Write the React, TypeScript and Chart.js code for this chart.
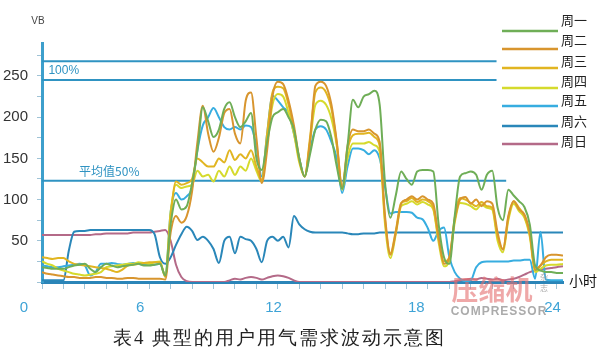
import React, { useEffect, useRef } from 'react';
import { Chart, registerables } from 'chart.js';

Chart.register(...registerables);

// ---------- DATA ----------
const hours = [
  0, 0.25, 0.5, 0.75, 1, 1.25, 1.5, 1.75, 2, 2.25, 2.5, 2.75, 3, 3.25, 3.5, 3.75,
  4, 4.25, 4.5, 4.75, 5, 5.25, 5.5, 5.75, 6, 6.25, 6.5, 6.75, 7, 7.25, 7.5, 7.75,
  8, 8.25, 8.5, 8.75, 9, 9.25, 9.5, 9.75, 10, 10.25, 10.5, 10.75, 11, 11.25, 11.5, 11.75,
  12, 12.25, 12.5, 12.75, 13, 13.25, 13.5, 13.75, 14, 14.25, 14.5, 14.75, 15, 15.25, 15.5, 15.75,
  16, 16.25, 16.5, 16.75, 17, 17.25, 17.5, 17.75, 18, 18.25, 18.5, 18.75, 19, 19.25, 19.5, 19.75,
  20, 20.25, 20.5, 20.75, 21, 21.25, 21.5, 21.75, 22, 22.25, 22.5, 22.75, 23, 23.25, 23.5, 23.75,
  24, 24.3,
];

const mon = [
  18, 17, 16, 16, 16, 18, 20, 21, 22, 16, 12, 18, 22, 20, 18, 19,
  20, 21, 22, 20, 20, 21, 22, 8, 70, 100, 88, 92, 120, 160, 212, 195,
  176, 185, 210, 218, 200, 188, 195, 205, 150, 136, 170, 200, 206, 210, 200, 185,
  150, 128, 155, 185, 197, 195, 175, 140, 113, 165, 221, 212, 225, 228, 232, 215,
  120, 78, 105, 134, 125, 118, 134, 136, 136, 134, 70, 30, 22, 80, 128, 132,
  134, 130, 112, 130, 135, 90, 75, 112, 105, 98, 91, 70, 20, 14, 12, 12,
  11, 11,
];
const tue = [
  12, 10, 9, 8, 7, 6, 6, 5, 5, 5, 6, 6, 5, 5, 4, 4,
  5, 5, 4, 4, 4, 4, 4, 3, 60, 80, 72, 80, 110, 170, 214, 180,
  158, 175, 205, 210, 180, 168, 220, 230, 175, 120, 160, 225, 243, 240, 220, 190,
  150, 128, 170, 238, 243, 238, 215, 170, 115, 165, 185, 183, 183, 185, 180, 170,
  80, 33, 60, 95, 100, 104, 100, 104, 100, 95, 55, 22, 30, 75, 100, 103,
  95, 100, 92, 98, 95, 60, 39, 80, 98, 88, 82, 60, 15, 20, 30, 33,
  33, 32,
];
const wed = [
  30, 29, 28, 29, 29, 25, 22, 21, 20, 19, 18, 17, 16, 14, 12, 15,
  20, 21, 22, 23, 24, 24, 24, 6, 80, 122, 118, 120, 125, 150, 145, 140,
  140, 150, 145, 160, 148, 155, 150, 160, 140, 124, 180, 230, 237, 235, 215, 185,
  148, 128, 175, 230, 236, 230, 210, 168, 114, 160, 178, 180, 180, 181, 176, 165,
  75, 35, 62, 96, 98, 102, 97, 100, 98, 90, 52, 25, 30, 78, 102, 100,
  96, 92, 97, 92, 90, 55, 40, 78, 98, 90, 80, 58, 15, 20, 25, 27,
  27, 27,
];
const thu = [
  25, 22, 20, 16, 14, 12, 10, 9, 8, 9, 10, 12, 18, 19, 20, 21,
  22, 22, 24, 23, 22, 24, 25, 7, 85, 118, 114, 116, 118, 135, 128, 130,
  122, 135, 128, 140, 130, 140, 135, 150, 135, 122, 170, 215, 228, 225, 205, 180,
  145, 128, 170, 215, 220, 215, 198, 165, 112, 150, 168, 168, 168, 170, 166, 158,
  70, 29, 58, 92, 95, 98, 94, 97, 94, 88, 48, 19, 26, 72, 96, 95,
  92, 88, 94, 90, 88, 50, 36, 75, 95, 86, 78, 55, 12, 16, 20, 21,
  21, 22,
];
const fri = [
  20, 19, 18, 18, 19, 20, 21, 22, 20, 8, 12, 22, 22, 23, 22, 21,
  22, 23, 22, 21, 22, 21, 22, 8, 85, 108, 100, 104, 115, 160, 190, 200,
  211, 200, 188, 185, 188, 185, 190, 188, 165, 128, 180, 226, 220, 212, 205, 180,
  150, 128, 160, 185, 189, 185, 170, 150, 108, 140, 162, 162, 160, 155, 160, 150,
  115, 83, 85, 85, 85, 84, 78, 76, 65, 50, 62, 66, 30, 12, 4, 1,
  2, 18, 24, 25, 25, 25, 25, 25, 26, 26, 27, 27, 4, 61, 3, 2,
  2, 2,
];
const sat = [
  2, 2, 2, 2, 2, 38, 61, 62, 62, 63, 63, 63, 63, 63, 63, 63,
  63, 63, 63, 63, 63, 58, 30, 22, 30, 45, 58, 67, 62, 51, 55, 50,
  40, 23, 50, 55, 35, 55, 52, 50, 40, 24, 50, 55, 50, 55, 42, 80,
  70, 64, 61, 60, 60, 60, 60, 60, 60, 59, 58, 58, 59, 59, 59, 60,
  60, 60, 60, 60, 60, 60, 60, 60, 60, 60, 60, 60, 60, 60, 60, 60,
  60, 60, 60, 60, 60, 60, 60, 60, 60, 60, 60, 60, 60, 60, 60, 60,
  60, 60,
];
const sun = [
  57, 57, 57, 57, 57, 57, 57, 57, 57, 57, 58, 58, 59, 59, 59, 59,
  59, 60, 60, 60, 60, 61, 62, 63, 50, 21, 6, 1, 0, 0, 0, 0,
  0, 0, 0, 2, 4, 3, 5, 6, 5, 3, 5, 7, 8, 7, 5, 2,
  0, 0, 0, 0, 0, 0, 0, 0, 0, 0, 0, 0, 0, 0, 0, 0,
  0, 0, 0, 0, 0, 0, 0, 0, 0, 0, 0, 0, 0, 1, 2, 3,
  4, 3, 5, 4, 3, 4, 2, 3, 4, 6, 9, 12, 14, 15, 16, 17,
  18, 19,
];

const seriesNames = ['周一', '周二', '周三', '周四', '周五', '周六', '周日'];
const seriesValues = [mon, tue, wed, thu, fri, sat, sun];
const seriesColors = ['#6fae57', '#d8952e', '#e1b521', '#d5da2d', '#37ade0', '#2a87b9', '#b46a88'];

// reference lines (value, end hour)
const refFullTop = 268;
const refFullBottom = 245;
const refAvg = 123;
const refFullEnd = 21.2;
const refAvgEnd = 21.65;

const yTickLabels = [50, 100, 150, 200, 250];
const xLabelText = ['0', '6', '12', '18', '24'];
const xLabelHours = [-0.84, 4.58, 10.8, 17.46, 23.81];

// ---------- STYLE / LAYOUT ----------
const legendLineY = [31, 49, 68, 88, 106, 126, 144];
const legendTextY = [20, 40, 61, 81, 100, 121, 141];
const refColor = '#2f93c2';

const extrasPlugin = {
  id: 'extras',
  afterDraw(chart: any) {
    const { ctx } = chart;
    const xs = chart.scales.x;
    const ys = chart.scales.y;
    ctx.save();

    // unit label
    ctx.fillStyle = '#444';
    ctx.font = '10px "Liberation Sans"';
    ctx.textAlign = 'center';
    ctx.textBaseline = 'middle';
    ctx.fillText('VB', 38, 21);

    // reference labels
    ctx.fillStyle = refColor;
    ctx.font = '12px "Liberation Sans"';
    ctx.textAlign = 'left';
    ctx.fillText('100%', xs.getPixelForValue(0.3), ys.getPixelForValue((refFullTop + refFullBottom) / 2));
    ctx.font = '12px "Noto Sans CJK SC"';
    ctx.fillText('平均值50%', xs.getPixelForValue(1.73), ys.getPixelForValue(134));

    // legend
    ctx.lineWidth = 2.5;
    for (let i = 0; i < seriesNames.length; i++) {
      ctx.strokeStyle = seriesColors[i];
      ctx.beginPath();
      ctx.moveTo(502, legendLineY[i]);
      ctx.lineTo(558, legendLineY[i]);
      ctx.stroke();
      ctx.fillStyle = '#222';
      ctx.font = '13px "Noto Sans CJK SC"';
      ctx.textAlign = 'left';
      ctx.textBaseline = 'middle';
      ctx.fillText(seriesNames[i], 561, legendTextY[i]);
    }

    // axis unit
    ctx.fillStyle = '#111';
    ctx.font = '14px "Noto Sans CJK SC"';
    ctx.fillText('小时', 569, 281);

    // watermark
    ctx.textAlign = 'center';
    ctx.fillStyle = 'rgba(228, 110, 110, 0.6)';
    ctx.font = 'bold 27px "Noto Sans CJK SC"';
    ctx.fillText('压缩机', 492, 290);
    ctx.fillStyle = 'rgba(150, 150, 150, 0.8)';
    ctx.font = 'bold 12px "Liberation Sans"';
    (ctx as any).letterSpacing = '1px';
    ctx.fillText('COMPRESSOR', 499, 312);
    (ctx as any).letterSpacing = '0px';
    ctx.font = '8px "Noto Sans CJK SC"';
    ctx.fillStyle = 'rgba(150,150,150,0.8)';
    ctx.fillText('杂', 544, 277);
    ctx.fillText('志', 544, 288);

    // caption
    ctx.fillStyle = '#222';
    ctx.font = '19px serif';
    (ctx as any).letterSpacing = '2px';
    ctx.textAlign = 'left';
    ctx.fillText('表4 典型的用户用气需求波动示意图', 113, 339);
    (ctx as any).letterSpacing = '0px';

    ctx.restore();
  },
};

export default function App() {
  const canvasRef = useRef<HTMLCanvasElement | null>(null);

  useEffect(() => {
    document.body.style.margin = '0';
    const canvas = canvasRef.current;
    if (!canvas) return;

    const dataSets: any[] = seriesNames.map((name, i) => ({
      label: name,
      data: hours.map((h, j) => ({ x: h, y: seriesValues[i][j] })),
      borderColor: seriesColors[i],
      borderWidth: 2,
      pointRadius: 0,
      cubicInterpolationMode: 'monotone',
      fill: false,
    }));
    const refLine = (v: number, end: number) => ({
      label: 'ref',
      data: [{ x: 0, y: v }, { x: end, y: v }],
      borderColor: refColor,
      borderWidth: 2,
      pointRadius: 0,
      tension: 0,
      fill: false,
    });
    dataSets.push(refLine(refFullTop, refFullEnd));
    dataSets.push(refLine(refFullBottom, refFullEnd));
    dataSets.push(refLine(refAvg, refAvgEnd));

    const chart = new Chart(canvas, {
      type: 'line',
      data: { datasets: dataSets },
      plugins: [extrasPlugin],
      options: {
        animation: false,
        responsive: false,
        devicePixelRatio: 1,
        layout: { padding: { left: 0, right: 37, top: 43, bottom: 0 } },
        plugins: { legend: { display: false }, tooltip: { enabled: false } },
        scales: {
          x: {
            type: 'linear',
            position: 'bottom',
            weight: 0,
            min: 0,
            max: 24.3,
            ticks: {
              stepSize: 1,
              includeBounds: false,
              autoSkip: false,
              maxRotation: 0,
              padding: 0,
              callback: () => '',
            },
            grid: { drawOnChartArea: false, drawTicks: true, tickLength: 7, color: '#9fc3d6', lineWidth: 1 },
            border: { display: true, color: '#2b85b8', width: 3 },
            afterFit: (s: any) => {
              s.height = 8;
            },
          },
          xl: {
            type: 'linear',
            position: 'bottom',
            weight: 1,
            min: 0,
            max: 24.3,
            grid: { display: false, drawTicks: false },
            border: { display: false },
            afterBuildTicks: (s: any) => {
              s.ticks = xLabelHours.map((v) => ({ value: v }));
            },
            ticks: {
              autoSkip: false,
              maxRotation: 0,
              padding: 9,
              color: '#3ea3d6',
              font: { family: 'Liberation Sans', size: 15 },
              callback: (_v: any, i: number) => xLabelText[i],
            },
            afterFit: (s: any) => {
              s.height = 60;
            },
          },
          y: {
            type: 'linear',
            min: 0,
            max: 290,
            ticks: {
              stepSize: 25,
              includeBounds: false,
              padding: 9,
              color: '#333',
              font: { family: 'Liberation Sans', size: 15 },
              callback: (v: any) => (yTickLabels.includes(Number(v)) ? String(v) : ''),
            },
            grid: { drawOnChartArea: false, drawTicks: true, tickLength: 5, color: '#9fc3d6' },
            border: { display: true, color: '#3d9fcc', width: 3 },
            afterFit: (s: any) => {
              s.width = 42;
            },
          },
        },
      } as any,
    });

    return () => chart.destroy();
  }, []);

  return (
    <div style={{ position: 'relative', width: 600, height: 350, background: '#fff' }}>
      <canvas ref={canvasRef} width={600} height={350} />
    </div>
  );
}
